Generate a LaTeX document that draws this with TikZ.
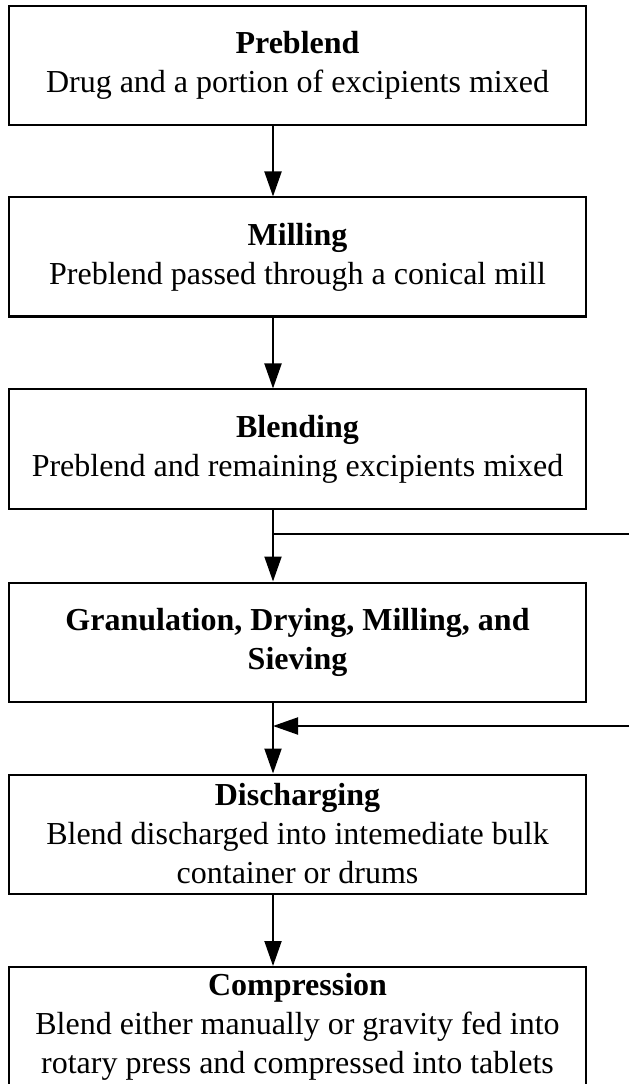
\documentclass[tikz,border=0pt]{standalone}
\usepackage{fontspec}
\setmainfont{Liberation Serif}
\usetikzlibrary{arrows.meta,positioning}

\tikzset{
  stage/.style={draw, line width=0.8pt, minimum width=230.8pt, minimum height=47.6pt,
    align=center, inner sep=2pt, font=\fontsize{12.8}{15.6}\selectfont},
  flow/.style={line width=0.8pt, -{Triangle[width=6.8pt,length=10pt]}},
  feed/.style={line width=0.8pt}
}

\begin{document}
\begin{tikzpicture}[x=0.4pt, y=-0.4pt]
    \useasboundingbox (0,0) rectangle (629,1084);

    % Process stages
    \node[stage] (pre) at (297.5,65.5) {\textbf{Preblend}\\Drug and a portion of excipients mixed};
    \node[stage] (mill) at (297.5,257) {\textbf{Milling}\\Preblend passed through a conical mill};
    \node[stage] (blend) at (297.5,449) {\textbf{Blending}\\Preblend and remaining excipients mixed};
    \node[stage] (gran) at (297.5,642) {\textbf{Granulation, Drying, Milling, and}\\\textbf{Sieving}};
    \node[stage] (dis) at (297.5,834) {\textbf{Discharging}\\Blend discharged into intemediate bulk\\container or drums};
    \node[stage] (comp) at (297.5,1026.5) {\textbf{Compression}\\Blend either manually or gravity fed into\\rotary press and compressed into tablets};

    % Main flow
    \coordinate (spine) at (273,0);
    \foreach \a/\b in {pre/mill, mill/blend, blend/gran, gran/dis, dis/comp}
        \draw[flow] (\a.south -| spine) -- (\b.north -| spine);

    % Side lines
    \coordinate (bypass) at (629,534);
    \coordinate (return) at (629,726);
    \draw[feed] (bypass -| spine) -- (bypass);
    \draw[flow] (return) -- (return -| spine);

\end{tikzpicture}
\end{document}
